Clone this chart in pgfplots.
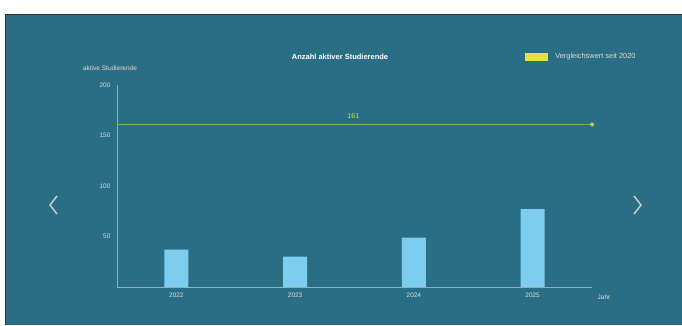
\documentclass[border=0pt]{standalone}
\usepackage{pgfplots}
\pgfplotsset{compat=1.18}
\usepackage{fontspec}
\setmainfont{Liberation Sans}
\definecolor{bg}{HTML}{2A6E86}
\definecolor{barc}{HTML}{7DCDEE}
\definecolor{linec}{HTML}{90AA4E}
\definecolor{legy}{HTML}{E6E23A}
\definecolor{txt}{HTML}{E2DCCD}
\definecolor{axc}{HTML}{8FB0B8}
\begin{document}
\begin{tikzpicture}
\path[use as bounding box] (0pt,0pt) rectangle (682pt,325pt);
\fill[white] (0pt,0pt) rectangle (682pt,325pt);
\fill[bg] (5pt,0pt) rectangle (682pt,311pt);
\draw[black!80, line width=1pt] (5.5pt,0pt) -- (5.5pt,310.5pt) -- (682pt,310.5pt);
\begin{axis}[
  at={(117pt,38pt)}, anchor=south west,
  scale only axis, width=475pt, height=202pt,
  xmin=-0.5, xmax=3.5, ymin=0, ymax=200,
  enlargelimits=false,
  axis x line*=bottom, axis y line*=left,
  axis line style={axc, line width=0.6pt, -},
  major tick length=0pt,
  ytick={50,100,150,200},
  xtick={0,1,2,3},
  xticklabels={2022,2023,2024,2025},
  tick label style={font=\fontsize{6.5}{7.5}\selectfont, text=txt},
  yticklabel style={xshift=-3pt},
  xticklabel style={yshift=-2pt},
  /pgf/number format/assume math mode=true,
  legend style={at={(0.852,1.14)}, anchor=west, draw=none, fill=none,
    font=\fontsize{7.4}{8}\selectfont, text=txt},
  legend cell align=left,
  clip=false,
]
\addplot[ybar, bar width=24pt, fill=barc, draw=none, forget plot]
  coordinates {(0,37) (1,30) (2,49) (3,77)};
\addplot[linec, line width=0.8pt, mark=*, mark size=1.8pt, mark indices={2},
  mark options={fill=legy!70!linec, draw=legy!70!linec}, forget plot]
  coordinates {(-0.5,161) (3.5,161)};
\node[text=legy, font=\fontsize{7}{8}\selectfont, anchor=south] at (axis cs:1.49,163) {161};
\addlegendimage{legend image code/.code={\fill[legy] (0pt,-3.5pt) rectangle (22pt,4pt);}}
\addlegendentry{\hspace{6pt}Vergleichswert seit 2020}
\end{axis}
\node[text=white, font=\bfseries\fontsize{7.5}{8.5}\selectfont] at (340pt,268pt) {Anzahl aktiver Studierende};
\node[text=txt, font=\fontsize{6.5}{7.5}\selectfont] at (110pt,257pt) {aktive Studierende};
\node[text=txt, font=\fontsize{6.5}{7.5}\selectfont] at (604pt,28pt) {Jahr};
\draw[gray!40, line width=1.5pt] (57pt,129pt) -- (50pt,120pt) -- (57pt,111pt);
\draw[gray!40, line width=1.5pt] (634pt,129pt) -- (641pt,120pt) -- (634pt,111pt);
\end{tikzpicture}
\end{document}
